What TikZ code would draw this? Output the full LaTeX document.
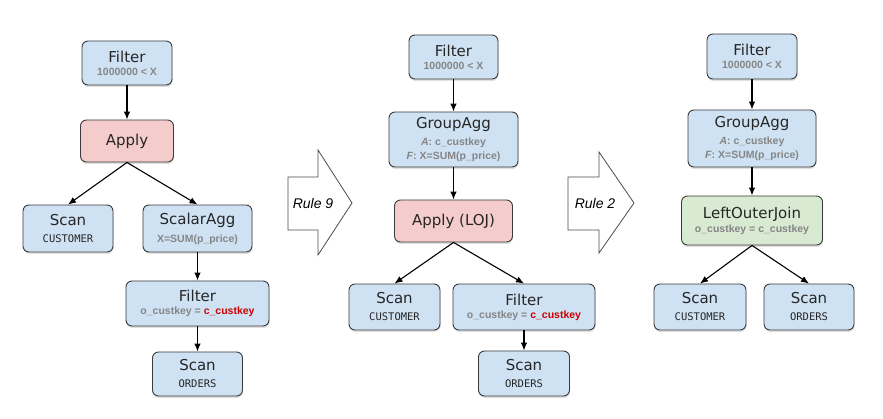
\documentclass[tikz,border=0pt]{standalone}
\usepackage{fontspec}
\setmainfont{DejaVu Sans}
\newfontfamily\detailfamily{Liberation Sans}
\newfontfamily\relfamily{DejaVu Sans Mono}
\usetikzlibrary{arrows.meta,shadows}

\definecolor{opblue}{HTML}{CFE2F3}
\definecolor{opred}{HTML}{F4CCCC}
\definecolor{opgreen}{HTML}{D9EAD3}
\definecolor{boxline}{HTML}{3A3A3A}
\definecolor{detailgrey}{HTML}{858585}
\definecolor{keyred}{HTML}{CC0000}

\newcommand{\detail}{\fontsize{10.5}{12}\selectfont\detailfamily\bfseries\color{detailgrey}}
\newcommand{\relfont}{\fontsize{10.5}{12}\selectfont\relfamily}
\newcommand{\rulefont}{\fontsize{14}{16}\selectfont\detailfamily\itshape}
\newcommand{\key}[1]{\textcolor{keyred}{#1}}

\begin{document}
\begin{tikzpicture}[x=1pt,y=-1pt,
    op/.style={draw=boxline, line width=0.9pt, rounded corners=6pt, align=center,
      inner sep=0pt, font=\fontsize{15}{15}\selectfont, text=black!85,
      drop shadow={shadow xshift=0.5pt, shadow yshift=-2pt, opacity=0.25}},
    blueop/.style={op, fill=opblue},
    redop/.style={op, fill=opred},
    greenop/.style={op, fill=opgreen},
    flow/.style={-{Latex[length=8pt,width=6.5pt]}, line width=1.1pt},
    rulearrow/.style={draw=black!70, fill=white, line width=0.8pt}]

    \useasboundingbox (0,0) rectangle (883,419);

    % the first plan (before rule 9)
    \node[blueop, minimum width=90pt, minimum height=44pt] (f1) at (127,63)
        {Filter\\[-2pt]{\detail 1000000 < X}};
    \node[redop, minimum width=93pt, minimum height=42pt] (apply1) at (127,141) {Apply};
    \node[blueop, minimum width=90pt, minimum height=47pt] (scanc1) at (68,228.5)
        {Scan\\[2pt]{\relfont CUSTOMER}};
    \node[blueop, minimum width=109pt, minimum height=47pt] (agg1) at (197.5,228.5)
        {ScalarAgg\\[3pt]{\detail X=SUM(p\_price)}};
    \node[blueop, minimum width=143pt, minimum height=45pt] (filt1) at (197.5,303.5)
        {Filter\\[-2pt]{\detail o\_custkey = \key{c\_custkey}}};
    \node[blueop, minimum width=90pt, minimum height=44pt] (scano1) at (197.5,374)
        {Scan\\[2pt]{\relfont ORDERS}};

    % the second plan (after rule 9)
    \node[blueop, minimum width=89pt, minimum height=44pt] (f2) at (453.5,57)
        {Filter\\[-2pt]{\detail 1000000 < X}};
    \node[blueop, minimum width=129pt, minimum height=55pt] (agg2) at (453.5,139.5)
        {GroupAgg\\[2pt]{\detail \textit{A}: c\_custkey}\\[-1pt]{\detail \textit{F}: X=SUM(p\_price)}};
    \node[redop, minimum width=118pt, minimum height=42pt] (apply2) at (453.5,221) {Apply (LOJ)};
    \node[blueop, minimum width=91pt, minimum height=46pt] (scanc2) at (394.5,307)
        {Scan\\[2pt]{\relfont CUSTOMER}};
    \node[blueop, minimum width=142pt, minimum height=46pt] (filt2) at (524,307)
        {Filter\\[-2pt]{\detail o\_custkey = \key{c\_custkey}}};
    \node[blueop, minimum width=91pt, minimum height=45pt] (scano2) at (524,373.5)
        {Scan\\[2pt]{\relfont ORDERS}};

    % the third plan (after rule 2)
    \node[blueop, minimum width=90pt, minimum height=45pt] (f3) at (752,56.5)
        {Filter\\[-2pt]{\detail 1000000 < X}};
    \node[blueop, minimum width=128pt, minimum height=57pt] (agg3) at (752,138.5)
        {GroupAgg\\[2pt]{\detail \textit{A}: c\_custkey}\\[-1pt]{\detail \textit{F}: X=SUM(p\_price)}};
    \node[greenop, minimum width=141pt, minimum height=49pt] (loj3) at (752,220.5)
        {LeftOuterJoin\\[-1pt]{\detail o\_custkey = c\_custkey}};
    \node[blueop, minimum width=92pt, minimum height=46pt] (scanc3) at (700,307)
        {Scan\\[2pt]{\relfont CUSTOMER}};
    \node[blueop, minimum width=90pt, minimum height=46pt] (scano3) at (809,307)
        {Scan\\[2pt]{\relfont ORDERS}};

    % the rewrite arrows between the plans
    \draw[rulearrow, shift={(288,203)}] (0,-26) -- (30,-26) -- (30,-53) -- (64,0)
        -- (30,52) -- (30,27) -- (0,27) -- cycle;
    \draw[rulearrow, shift={(568,203)}] (0,-26) -- (31,-26) -- (31,-51) -- (66,0)
        -- (31,50) -- (31,27) -- (0,27) -- cycle;
    \node[font=\rulefont] (rule9) at (313,203) {Rule 9};
    \node[font=\rulefont] (rule2) at (595,203) {Rule 2};

    % draw the arrows
    \draw[flow] (f1) -- (apply1);
    \draw[flow] (apply1.south) -- (scanc1.north);
    \draw[flow] (apply1.south) -- (agg1.north);
    \draw[flow] (agg1) -- (filt1);
    \draw[flow] (filt1) -- (scano1);

    \draw[flow] (f2) -- (agg2);
    \draw[flow] (agg2) -- (apply2);
    \draw[flow] (apply2.south) -- (scanc2.north);
    \draw[flow] (apply2.south) -- (filt2.north);
    \draw[flow] (filt2) -- (scano2);

    \draw[flow] (f3) -- (agg3);
    \draw[flow] (agg3) -- (loj3);
    \draw[flow] (loj3.south) -- (scanc3.north);
    \draw[flow] (loj3.south) -- (scano3.north);

\end{tikzpicture}
\end{document}
